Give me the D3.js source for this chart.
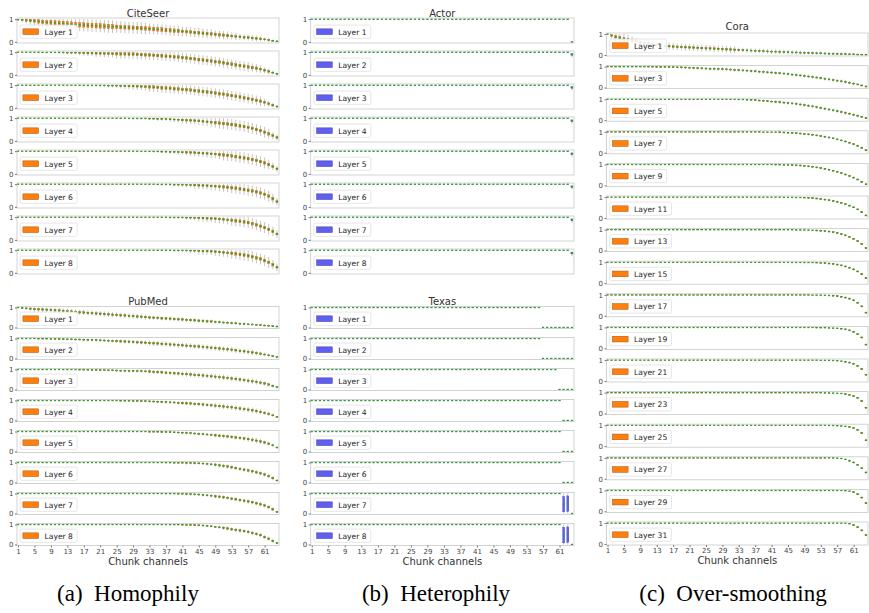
<!DOCTYPE html>
<html>
<head>
<meta charset="utf-8">
<script src="https://cdn.jsdelivr.net/npm/d3@7"></script>
<style>
  body { margin: 0; background: #fff; }
  svg { display: block; }
  text { font-family: "DejaVu Sans", sans-serif; }
  text.caption { font-family: "Liberation Serif", "Times New Roman", serif; white-space: pre; }
</style>
</head>
<body>
<svg id="chart" width="869" height="613"></svg>
<script>
// Channels and tick labels
const channels = d3.range(1, 65);
const xTickLabels = [1, 5, 9, 13, 17, 21, 25, 29, 33, 37, 41, 45, 49, 53, 57, 61];

// Layer names
const eightLayers = ["Layer 1", "Layer 2", "Layer 3", "Layer 4", "Layer 5", "Layer 6", "Layer 7", "Layer 8"];
const coraLayers = ["Layer 1", "Layer 3", "Layer 5", "Layer 7", "Layer 9", "Layer 11", "Layer 13", "Layer 15",
                    "Layer 17", "Layer 19", "Layer 21", "Layer 23", "Layer 25", "Layer 27", "Layer 29", "Layer 31"];

// Median per chunk channel, in percent
const citeseerMed = [
  [98,97,96,94,92,90,88,86, 85,83,82,81,79,78,76,75, 74,73,72,71,70,69,68,67, 66,65,64,63,62,61,60,59,
   58,56,55,54,52,51,49,48, 46,45,43,41,40,38,36,35, 33,31,29,28,26,24,22,20, 19,17,15,13,11,8,5,2],
  [100,100,100,100,100,100,99,99, 99,99,99,99,98,98,98,97, 97,96,96,95,95,94,94,93, 93,92,92,91,91,90,89,88,
   87,86,85,84,82,81,79,78, 76,74,72,70,67,65,63,61, 58,56,53,50,47,44,41,38, 35,32,29,25,20,15,10,5],
  [100,100,100,100,100,100,100,100, 100,100,100,100,100,100,100,100, 99,99,99,99,99,99,98,98, 98,97,97,96,96,95,94,93,
   92,91,90,88,87,86,84,83, 81,80,78,76,74,72,70,68, 65,62,60,57,54,51,48,44, 41,37,33,29,24,18,12,6],
  [100,100,100,100,100,100,100,100, 100,100,100,100,100,100,100,100, 100,100,100,100,100,100,100,100, 100,100,100,99,99,99,99,99,
   98,98,97,97,96,95,94,93, 92,91,90,89,88,86,84,82, 80,78,76,74,72,69,66,63, 59,55,50,45,38,31,23,15],
  [100,100,100,100,100,100,100,100, 100,100,100,100,100,100,100,100, 100,100,100,100,100,100,100,100, 100,100,100,100,100,100,99,99,
   99,99,99,98,98,97,97,96, 95,95,94,93,92,91,90,88, 87,85,83,81,79,76,73,70, 67,63,59,54,48,41,32,22],
  [100,100,100,100,100,100,100,100, 100,100,100,100,100,100,100,100, 100,100,100,100,100,100,100,100, 100,100,100,100,100,100,100,100,
   100,100,99,99,99,99,98,98, 98,97,96,96,95,94,93,92, 91,89,88,86,84,82,79,76, 73,70,66,61,55,47,36,23],
  [100,100,100,100,100,100,100,100, 100,100,100,100,100,100,100,100, 100,100,100,100,100,100,100,100, 100,100,100,100,100,100,100,100,
   100,100,100,100,100,99,99,99, 99,98,98,97,97,96,95,94, 93,92,90,88,86,84,82,79, 76,71,66,60,54,46,37,26],
  [100,100,100,100,100,100,100,100, 100,100,100,100,100,100,100,100, 100,100,100,100,100,100,100,100, 100,100,100,100,100,100,100,100,
   100,100,100,100,100,100,99,99, 99,99,98,98,97,96,96,95, 93,92,90,88,86,84,81,78, 75,71,66,61,54,46,36,25]
];
// Box half-height (x0.02) and whisker length beyond the box (x0.03), one digit per channel
const citeseerBox = [
  "12333444 55555555 55555555 44444444 44444444 33333333 33332222 22221111",
  "00000000 00111111 22222222 33333333 33333333 33333333 33333333 33322211",
  "00000000 00000000 01111111 11222222 33333333 33333333 33333333 33332221",
  "00000000 00000000 00000000 00001111 11111111 22222222 33333333 33333322",
  "00000000 00000000 00000000 00000000 01111111 12222222 23333333 33333322",
  "00000000 00000000 00000000 00000000 00011111 11122222 22333333 33333332",
  "00000000 00000000 00000000 00000000 00001111 11112222 22223333 33333332",
  "00000000 00000000 00000000 00000000 00001111 11112222 22223333 33333332"
];
const citeseerWhisk = [
  "12344455 66666666 66666666 66666666 55555555 55555555 44444433 33322211",
  "00000000 11122223 33344444 55555555 55555555 55555555 55555555 54443321",
  "00000000 00000000 11112222 33334444 55555555 55555555 55555555 55554321",
  "00000000 00000000 00000000 11111111 11222333 44445555 56666666 66666543",
  "00000000 00000000 00000000 00000111 11112223 33444455 55666666 66666543",
  "00000000 00000000 00000000 00000000 11111222 33344445 55556666 66666654",
  "00000000 00000000 00000000 00000000 00111122 22334444 55556666 66666654",
  "00000000 00000000 00000000 00000000 00111122 22334444 55556666 66666654"
];

const pubmedMed = [
  [100,98,96,94,92,91,90,89, 88,86,85,83,82,80,78,76, 75,73,72,70,69,67,66,64, 63,61,60,58,57,55,54,52,
   50,49,48,46,45,44,42,41, 40,38,37,36,34,33,31,30, 28,27,25,24,22,21,19,18, 16,15,13,12,10,9,7,5],
  [100,100,100,100,100,99,99,99, 98,98,97,97,96,96,95,95, 94,93,93,92,91,90,89,88, 87,86,85,84,83,81,80,79,
   78,76,75,73,72,70,69,67, 66,64,63,61,60,58,56,54, 52,50,48,46,44,41,38,36, 33,30,27,24,20,16,12,8],
  [100,100,100,100,100,100,100,100, 100,100,100,100,100,100,100,99, 99,99,98,98,97,97,96,96, 95,94,94,93,93,92,92,91,
   90,88,87,86,84,83,81,80, 78,77,75,73,72,70,68,66, 64,62,60,58,55,53,50,47, 44,41,38,34,30,25,18,12],
  [100,100,100,100,100,100,100,100, 100,100,100,100,100,100,100,100, 100,100,100,100,100,100,100,100, 100,99,99,99,98,98,97,97,
   96,95,94,93,92,91,90,88, 87,86,85,83,82,80,78,76, 74,72,70,68,66,63,60,57, 54,51,47,43,38,33,26,18],
  [100,100,100,100,100,100,100,100, 100,100,100,100,100,100,100,100, 100,100,100,100,100,100,100,100, 100,100,100,100,100,100,100,100,
   99,99,99,98,98,97,96,95, 94,93,92,90,88,87,85,83, 81,79,77,75,73,70,68,65, 62,58,54,50,45,39,31,20],
  [100,100,100,100,100,100,100,100, 100,100,100,100,100,100,100,100, 100,100,100,100,100,100,100,100, 100,100,100,100,100,100,100,100,
   100,100,100,100,100,100,99,99, 99,98,98,97,96,95,93,91, 89,86,83,80,76,72,68,64, 60,56,51,46,40,32,22,10],
  [100,100,100,100,100,100,100,100, 100,100,100,100,100,100,100,100, 100,100,100,100,100,100,100,100, 100,100,100,100,100,100,100,100,
   100,100,100,100,100,100,100,99, 99,98,97,96,95,93,91,89, 86,84,81,78,74,71,67,64, 60,56,51,46,40,32,21,8],
  [100,100,100,100,100,100,100,100, 100,100,100,100,100,100,100,100, 100,100,100,100,100,100,100,100, 100,100,100,100,100,100,100,100,
   100,100,100,100,100,100,100,100, 99,98,98,97,96,95,93,91, 88,86,83,80,76,73,70,67, 63,58,53,47,37,29,18,7]
];
const pubmedBox = [
  "01122222 22222222 22222222 22222222 22222222 22222222 11111111 11111111",
  "00000000 01111111 11111111 22222222 22222222 22222222 22222222 22221111",
  "00000000 00000000 01111111 11111111 22222222 22222222 22222222 22222211",
  "00000000 00000000 00000000 01111111 11111111 22222222 22222222 22222211",
  "00000000 00000000 00000000 00000000 11111111 11111111 22222222 22222211",
  "00000000 00000000 00000000 00000000 00001111 11111111 22222222 22222221",
  "00000000 00000000 00000000 00000000 00001111 11111111 22222222 22222221",
  "00000000 00000000 00000000 00000000 00000111 11111111 11222222 22222221"
];
const pubmedWhisk = [
  "01223333 33333333 33333333 33333333 22222222 22222222 22222222 11111111",
  "00000000 11111111 22222222 22222222 33333333 33333333 33333333 33222211",
  "00000000 00000000 11111111 22222222 22222222 33333333 33333333 33322221",
  "00000000 00000000 00000000 11111111 22222222 22222222 33333333 33332221",
  "00000000 00000000 00000000 00000000 11111111 22222222 22222222 33332221",
  "00000000 00000000 00000000 00000000 00001111 12222222 22222222 22222221",
  "00000000 00000000 00000000 00000000 00001111 12222222 22222222 22222221",
  "00000000 00000000 00000000 00000000 00000111 11111111 12222222 22222221"
];

const actorMed = [
  [100,100,100,100,100,100,100,100, 100,100,100,100,100,100,100,100, 100,100,100,100,100,100,100,100, 100,100,100,100,100,100,100,100,
   100,100,100,100,100,100,100,100, 100,100,100,100,100,100,100,100, 100,100,100,100,100,100,100,100, 100,100,100,100,100,100,100,0],
  [100,100,100,100,100,100,100,100, 100,100,100,100,100,100,100,100, 100,100,100,100,100,100,100,100, 100,100,100,100,100,100,100,100,
   100,100,100,100,100,100,100,100, 100,100,100,100,100,100,100,100, 100,100,100,100,100,100,100,100, 100,100,100,100,100,100,100,90],
  [100,100,100,100,100,100,100,100, 100,100,100,100,100,100,100,100, 100,100,100,100,100,100,100,100, 100,100,100,100,100,100,100,100,
   100,100,100,100,100,100,100,100, 100,100,100,100,100,100,100,100, 100,100,100,100,100,100,100,100, 100,100,100,100,100,100,100,90],
  [100,100,100,100,100,100,100,100, 100,100,100,100,100,100,100,100, 100,100,100,100,100,100,100,100, 100,100,100,100,100,100,100,100,
   100,100,100,100,100,100,100,100, 100,100,100,100,100,100,100,100, 100,100,100,100,100,100,100,100, 100,100,100,100,100,100,100,89],
  [100,100,100,100,100,100,100,100, 100,100,100,100,100,100,100,100, 100,100,100,100,100,100,100,100, 100,100,100,100,100,100,100,100,
   100,100,100,100,100,100,100,100, 100,100,100,100,100,100,100,100, 100,100,100,100,100,100,100,100, 100,100,100,100,100,100,100,88],
  [100,100,100,100,100,100,100,100, 100,100,100,100,100,100,100,100, 100,100,100,100,100,100,100,100, 100,100,100,100,100,100,100,100,
   100,100,100,100,100,100,100,100, 100,100,100,100,100,100,100,100, 100,100,100,100,100,100,100,100, 100,100,100,100,100,100,100,89],
  [100,100,100,100,100,100,100,100, 100,100,100,100,100,100,100,100, 100,100,100,100,100,100,100,100, 100,100,100,100,100,100,100,100,
   100,100,100,100,100,100,100,100, 100,100,100,100,100,100,100,100, 100,100,100,100,100,100,100,100, 100,100,100,100,100,100,100,88],
  [100,100,100,100,100,100,100,100, 100,100,100,100,100,100,100,100, 100,100,100,100,100,100,100,100, 100,100,100,100,100,100,100,100,
   100,100,100,100,100,100,100,100, 100,100,100,100,100,100,100,100, 100,100,100,100,100,100,100,100, 100,100,100,100,100,100,100,87]
];
// Full boxes that stand out: [layer index, channel, low whisker, q1, median, q3, high whisker] in percent
const actorExtra = [
  [1, 64, 77, 86, 90, 93, 96], [2, 64, 77, 86, 90, 93, 96], [3, 64, 76, 85, 89, 92, 96], [4, 64, 75, 84, 88, 92, 96],
  [5, 64, 76, 85, 89, 92, 96], [6, 64, 75, 84, 88, 92, 96], [7, 64, 74, 83, 87, 91, 95]
];

const texasMed = [
  [100,100,100,100,100,100,100,100, 100,100,100,100,100,100,100,100, 100,100,100,100,100,100,100,100, 100,100,100,100,100,100,100,100,
   100,100,100,100,100,100,100,100, 100,100,100,100,100,100,100,100, 100,100,100,100,100,100,100,100, 0,0,0,0,0,0,0,0],
  [100,100,100,100,100,100,100,100, 100,100,100,100,100,100,100,100, 100,100,100,100,100,100,100,100, 100,100,100,100,100,100,100,100,
   100,100,100,100,100,100,100,100, 100,100,100,100,100,100,100,100, 100,100,100,100,100,100,100,100, 0,0,0,0,0,0,0,0],
  [100,100,100,100,100,100,100,100, 100,100,100,100,100,100,100,100, 100,100,100,100,100,100,100,100, 100,100,100,100,100,100,100,100,
   100,100,100,100,100,100,100,100, 100,100,100,100,100,100,100,100, 100,100,100,100,100,100,100,100, 100,100,100,100,0,0,0,0],
  [100,100,100,100,100,100,100,100, 100,100,100,100,100,100,100,100, 100,100,100,100,100,100,100,100, 100,100,100,100,100,100,100,100,
   100,100,100,100,100,100,100,100, 100,100,100,100,100,100,100,100, 100,100,100,100,100,100,100,100, 100,100,100,100,100,0,0,0],
  [100,100,100,100,100,100,100,100, 100,100,100,100,100,100,100,100, 100,100,100,100,100,100,100,100, 100,100,100,100,100,100,100,100,
   100,100,100,100,100,100,100,100, 100,100,100,100,100,100,100,100, 100,100,100,100,100,100,100,100, 100,100,100,100,100,0,0,0],
  [100,100,100,100,100,100,100,100, 100,100,100,100,100,100,100,100, 100,100,100,100,100,100,100,100, 100,100,100,100,100,100,100,100,
   100,100,100,100,100,100,100,100, 100,100,100,100,100,100,100,100, 100,100,100,100,100,100,100,100, 100,100,100,100,100,0,0,0],
  [100,100,100,100,100,100,100,100, 100,100,100,100,100,100,100,100, 100,100,100,100,100,100,100,100, 100,100,100,100,100,100,100,100,
   100,100,100,100,100,100,100,100, 100,100,100,100,100,100,100,100, 100,100,100,100,100,100,100,100, 100,100,100,100,100,45,50,0],
  [100,100,100,100,100,100,100,100, 100,100,100,100,100,100,100,100, 100,100,100,100,100,100,100,100, 100,100,100,100,100,100,100,100,
   100,100,100,100,100,100,100,100, 100,100,100,100,100,100,100,100, 100,100,100,100,100,100,100,100, 100,100,100,100,100,45,52,0]
];
const texasExtra = [
  [6, 62, 0, 8, 45, 85, 100], [6, 63, 0, 10, 50, 88, 100],
  [7, 62, 0, 8, 45, 86, 100], [7, 63, 0, 10, 52, 88, 100]
];

const coraMed = [
  [100,93,87,82,77,73,69,65, 61,58,55,52,49,46,43,42, 40,39,38,37,36,35,34,33, 32,31,30,29,28,27,26,25,
   24,23,22,21,20,19,18,17, 16,16,15,14,13,12,12,11, 10,10,9,8,8,7,6,6, 5,4,4,3,3,2,1,1],
  [100,100,100,100,100,100,100,100, 100,100,100,100,99,99,99,98, 98,97,97,96,95,94,93,92, 91,90,90,89,88,87,86,84,
   83,82,81,79,78,76,75,73, 72,70,69,67,65,62,60,58, 56,53,51,48,45,42,39,36, 33,30,27,23,19,15,10,5],
  [100,100,100,100,100,100,100,100, 100,100,100,100,100,100,100,100, 100,100,100,100,100,100,100,100, 100,100,100,100,100,100,100,100,
   99,99,98,97,96,94,93,91, 89,88,86,84,82,80,78,75, 72,69,66,62,59,55,51,47, 43,39,35,31,26,21,16,10],
  [100,100,100,100,100,100,100,100, 100,100,100,100,100,100,100,100, 100,100,100,100,100,100,100,100, 100,100,100,100,100,100,100,100,
   100,100,100,100,100,100,99,99, 99,99,98,97,96,95,94,92, 90,88,86,83,80,77,73,69, 64,59,54,48,41,33,24,12],
  [100,100,100,100,100,100,100,100, 100,100,100,100,100,100,100,100, 100,100,100,100,100,100,100,100, 100,100,100,100,100,100,100,100,
   100,100,100,100,100,100,100,100, 100,99,99,98,98,97,96,95, 93,91,89,86,83,79,75,70, 65,59,52,45,37,28,17,5],
  [100,100,100,100,100,100,100,100, 100,100,100,100,100,100,100,100, 100,100,100,100,100,100,100,100, 100,100,100,100,100,100,100,100,
   100,100,100,100,100,100,100,100, 100,100,100,99,99,99,98,98, 97,96,95,93,91,88,85,81, 77,72,66,59,51,41,28,12],
  [100,100,100,100,100,100,100,100, 100,100,100,100,100,100,100,100, 100,100,100,100,100,100,100,100, 100,100,100,100,100,100,100,100,
   100,100,100,100,100,100,100,100, 100,100,100,100,100,100,99,99, 99,98,97,96,95,93,91,88, 84,79,73,65,56,45,31,12],
  [100,100,100,100,100,100,100,100, 100,100,100,100,100,100,100,100, 100,100,100,100,100,100,100,100, 100,100,100,100,100,100,100,100,
   100,100,100,100,100,100,100,100, 100,100,100,100,100,99,99,99, 99,99,99,98,97,96,94,92, 89,85,80,74,66,56,43,25],
  [100,100,100,100,100,100,100,100, 100,100,100,100,100,100,100,100, 100,100,100,100,100,100,100,100, 100,100,100,100,100,100,100,100,
   100,100,100,100,100,100,100,100, 100,100,100,100,100,100,100,100, 100,100,99,99,99,98,97,96, 94,91,87,82,74,62,45,15],
  [100,100,100,100,100,100,100,100, 100,100,100,100,100,100,100,100, 100,100,100,100,100,100,100,100, 100,100,100,100,100,100,100,100,
   100,100,100,100,100,100,100,100, 100,100,100,100,100,100,100,100, 100,100,100,99,99,99,98,97, 96,94,91,86,79,68,52,18],
  [100,100,100,100,100,100,100,100, 100,100,100,100,100,100,100,100, 100,100,100,100,100,100,100,100, 100,100,100,100,100,100,100,100,
   100,100,100,100,100,100,100,100, 100,100,100,100,100,100,100,100, 100,100,100,100,99,99,99,98, 97,95,92,88,82,72,57,30],
  [100,100,100,100,100,100,100,100, 100,100,100,100,100,100,100,100, 100,100,100,100,100,100,100,100, 100,100,100,100,100,100,100,100,
   100,100,100,100,100,100,100,100, 100,100,100,100,100,100,100,100, 100,100,100,100,100,99,99,98, 97,96,93,89,84,75,60,28],
  [100,100,100,100,100,100,100,100, 100,100,100,100,100,100,100,100, 100,100,100,100,100,100,100,100, 100,100,100,100,100,100,100,100,
   100,100,100,100,100,100,100,100, 100,100,100,100,100,100,100,100, 100,100,100,100,100,100,99,99, 98,97,95,92,87,78,63,28],
  [100,100,100,100,100,100,100,100, 100,100,100,100,100,100,100,100, 100,100,100,100,100,100,100,100, 100,100,100,100,100,100,100,100,
   100,100,100,100,100,100,100,100, 100,100,100,100,100,100,100,100, 100,100,100,100,100,100,100,100, 99,97,93,86,78,67,50,30],
  [100,100,100,100,100,100,100,100, 100,100,100,100,100,100,100,100, 100,100,100,100,100,100,100,100, 100,100,100,100,100,100,100,100,
   100,100,100,100,100,100,100,100, 100,100,100,100,100,100,100,100, 100,100,100,100,100,100,100,100, 100,100,99,97,92,82,66,39],
  [100,100,100,100,100,100,100,100, 100,100,100,100,100,100,100,100, 100,100,100,100,100,100,100,100, 100,100,100,100,100,100,100,100,
   100,100,100,100,100,100,100,100, 100,100,100,100,100,100,100,100, 100,100,100,100,100,100,100,100, 100,100,100,97,90,80,65,42]
];
const coraBox = [
  "02333322 22222222 22222222 22222222 11111111 11111111 11111111 11111111",
  "00000000 00011111 11111111 11111111 11111111 11111111 11111111 11111111",
  "00000000 00000000 00000000 00000000 00111111 11111111 11111111 11111111",
  "00000000 00000000 00000000 00000000 00000000 00111111 11111111 11111111",
  "00000000 00000000 00000000 00000000 00000000 00000111 11111111 11111111",
  "00000000 00000000 00000000 00000000 00000000 00000000 01111111 11111111",
  "00000000 00000000 00000000 00000000 00000000 00000000 00011111 11111111",
  "00000000 00000000 00000000 00000000 00000000 00000000 00000111 11111111",
  "00000000 00000000 00000000 00000000 00000000 00000000 00000001 11111111",
  "00000000 00000000 00000000 00000000 00000000 00000000 00000000 01111111",
  "00000000 00000000 00000000 00000000 00000000 00000000 00000000 00111111",
  "00000000 00000000 00000000 00000000 00000000 00000000 00000000 00111111",
  "00000000 00000000 00000000 00000000 00000000 00000000 00000000 00011111",
  "00000000 00000000 00000000 00000000 00000000 00000000 00000000 00011111",
  "00000000 00000000 00000000 00000000 00000000 00000000 00000000 00001111",
  "00000000 00000000 00000000 00000000 00000000 00000000 00000000 00001111"
];
const coraWhisk = [
  "03566654 44444444 44444444 44444444 33333333 33333333 22222222 22221111",
  "00000000 00111111 11222222 22222222 22222222 22222222 22222222 22222111",
  "00000000 00000000 00000000 00000000 01111111 12222222 22222222 22222211",
  "00000000 00000000 00000000 00000000 00000000 00111111 11111111 11111111",
  "00000000 00000000 00000000 00000000 00000000 00000111 11111111 11111111",
  "00000000 00000000 00000000 00000000 00000000 00000000 01111111 11111111",
  "00000000 00000000 00000000 00000000 00000000 00000000 00011111 11111111",
  "00000000 00000000 00000000 00000000 00000000 00000000 00000111 11111111",
  "00000000 00000000 00000000 00000000 00000000 00000000 00000001 11111111",
  "00000000 00000000 00000000 00000000 00000000 00000000 00000000 01111111",
  "00000000 00000000 00000000 00000000 00000000 00000000 00000000 00111111",
  "00000000 00000000 00000000 00000000 00000000 00000000 00000000 00111111",
  "00000000 00000000 00000000 00000000 00000000 00000000 00000000 00011111",
  "00000000 00000000 00000000 00000000 00000000 00000000 00000000 00011111",
  "00000000 00000000 00000000 00000000 00000000 00000000 00000000 00001111",
  "00000000 00000000 00000000 00000000 00000000 00000000 00000000 00001111"
];

const captions = ["(a)  Homophily", "(b)  Heterophily", "(c)  Over-smoothing"];

// Colours
const orange = "#ff7f0e";
const blue = "#5e5ef2";
const green = "#2ca02c";

// Column extents (frame left/right) and caption centres
const columns = [
  { x0: 17, x1: 279, caption: 128 },
  { x0: 310.7, x1: 574, caption: 436 },
  { x0: 606.5, x1: 868, caption: 733 }
];

const groups = [
  { title: "CiteSeer", col: 0, top: 18, step: 33, h: 25, titleY: 16.5, names: eightLayers,
    med: citeseerMed, box: citeseerBox, whisk: citeseerWhisk, fill: orange, extra: [], xAxis: false },
  { title: "PubMed", col: 0, top: 306.5, step: 31, h: 22, titleY: 305, names: eightLayers,
    med: pubmedMed, box: pubmedBox, whisk: pubmedWhisk, fill: orange, extra: [], xAxis: true },
  { title: "Actor", col: 1, top: 18, step: 33, h: 25, titleY: 16.5, names: eightLayers,
    med: actorMed, box: null, whisk: null, fill: blue, extra: actorExtra, xAxis: false },
  { title: "Texas", col: 1, top: 306.5, step: 31, h: 22, titleY: 305, names: eightLayers,
    med: texasMed, box: null, whisk: null, fill: blue, extra: texasExtra, xAxis: true },
  { title: "Cora", col: 2, top: 33, step: 32.6, h: 23, titleY: 30, names: coraLayers,
    med: coraMed, box: coraBox, whisk: coraWhisk, fill: orange, extra: [], xAxis: true }
];

const svg = d3.select("#chart");
const digits = s => s.replace(/\s/g, "").split("").map(Number);
const clamp = v => Math.max(0, Math.min(1, v));
const boxWidth = 0.5;   // in channel units

function buildBoxes(grp, i) {
  const box = grp.box ? digits(grp.box[i]) : null;
  const whisk = grp.whisk ? digits(grp.whisk[i]) : null;
  const stats = channels.map((c, j) => {
    const m = grp.med[i][j] / 100;
    const b = box ? box[j] * 0.02 : 0;
    const w = whisk ? whisk[j] * 0.03 : 0;
    return { c, med: m, q1: clamp(m - b), q3: clamp(m + b), lo: clamp(m - b - w), hi: clamp(m + b + w) };
  });
  grp.extra.filter(e => e[0] === i).forEach(([, c, lo, q1, med, q3, hi]) => {
    stats[c - 1] = { c, lo: lo / 100, q1: q1 / 100, med: med / 100, q3: q3 / 100, hi: hi / 100 };
  });
  return stats;
}

function drawPanel(grp, i) {
  const col = columns[grp.col];
  const top = grp.top + i * grp.step;
  const x = d3.scaleLinear().domain([0.75, 64.5]).range([col.x0, col.x1]);
  const y = d3.scaleLinear().domain([-0.05, 1.05]).range([top + grp.h, top]);
  const g = svg.append("g");
  const stats = buildBoxes(grp, i);
  const bw = x(boxWidth) - x(0);
  const edge = d3.color(grp.fill).darker(1.2).formatHex();

  // whiskers
  g.selectAll("line.whisker")
    .data(stats.filter(d => d.hi - d.lo > 0.001))
    .join("line")
    .attr("class", "whisker")
    .attr("x1", d => x(d.c)).attr("x2", d => x(d.c))
    .attr("y1", d => y(d.lo)).attr("y2", d => y(d.hi))
    .attr("stroke", "#bdbdbd").attr("stroke-width", 0.9);

  // boxes
  g.selectAll("rect.box")
    .data(stats)
    .join("rect")
    .attr("class", "box")
    .attr("x", d => x(d.c) - bw / 2)
    .attr("width", bw)
    .attr("y", d => y(d.q3))
    .attr("height", d => Math.max(0.3, y(d.q1) - y(d.q3)))
    .attr("fill", grp.fill)
    .attr("stroke", edge)
    .attr("stroke-width", 0.3);

  // medians
  g.selectAll("line.median")
    .data(stats)
    .join("line")
    .attr("class", "median")
    .attr("x1", d => x(d.c) - bw / 2).attr("x2", d => x(d.c) + bw / 2)
    .attr("y1", d => y(d.med)).attr("y2", d => y(d.med))
    .attr("stroke", green).attr("stroke-width", 1.4);

  // frame
  g.append("rect")
    .attr("x", col.x0).attr("y", top)
    .attr("width", col.x1 - col.x0).attr("height", grp.h)
    .attr("fill", "none").attr("stroke", "#c8c8c8").attr("stroke-width", 0.8);

  // y axis
  const yAxis = g.append("g")
    .attr("transform", `translate(${col.x0},0)`)
    .call(d3.axisLeft(y).tickValues([0, 1]).tickSize(2).tickPadding(1.5).tickFormat(d3.format("d")));
  yAxis.select(".domain").remove();
  yAxis.selectAll(".tick line").attr("stroke", "#777");
  yAxis.selectAll(".tick text").attr("font-size", 7).attr("fill", "#444");

  // x axis on the last panel of a group
  if (grp.xAxis && i === grp.names.length - 1) {
    const xAxis = g.append("g")
      .attr("transform", `translate(0,${top + grp.h})`)
      .call(d3.axisBottom(x).tickValues(xTickLabels).tickSize(2).tickPadding(1.5));
    xAxis.select(".domain").remove();
    xAxis.selectAll(".tick line").attr("stroke", "#777");
    xAxis.selectAll(".tick text").attr("font-size", 7).attr("fill", "#444");
    svg.append("text")
      .attr("x", (col.x0 + col.x1) / 2).attr("y", top + grp.h + 19)
      .attr("text-anchor", "middle").attr("font-size", 10).attr("fill", "#333")
      .text("Chunk channels");
  }

  // legend
  const lh = 13.3;
  const lx = col.x0 + 3.2;
  const ly = top + grp.h / 2 - lh / 2 + 1.2;
  const lg = g.append("g");
  const lbox = lg.append("rect")
    .attr("x", lx).attr("y", ly).attr("height", lh).attr("rx", 1.5)
    .attr("fill", "#fff").attr("fill-opacity", 0.85)
    .attr("stroke", "#dddddd").attr("stroke-width", 0.7);
  lg.append("rect")
    .attr("x", lx + 2.7).attr("y", ly + (lh - 5.7) / 2)
    .attr("width", 15.7).attr("height", 5.7)
    .attr("fill", grp.fill)
    .attr("stroke", edge).attr("stroke-width", 0.5);
  const lt = lg.append("text")
    .attr("x", lx + 24.3).attr("y", ly + lh / 2 + 2.8)
    .attr("font-size", 7.6).attr("fill", "#222")
    .text(grp.names[i]);
  lbox.attr("width", 24.3 + lt.node().getComputedTextLength() + 4.2);
}

groups.forEach(grp => {
  const col = columns[grp.col];
  svg.append("text")
    .attr("x", (col.x0 + col.x1) / 2).attr("y", grp.titleY)
    .attr("text-anchor", "middle").attr("font-size", 10).attr("fill", "#333")
    .text(grp.title);
  grp.names.forEach((name, i) => drawPanel(grp, i));
});

// sub-figure captions
svg.selectAll("text.caption")
  .data(captions)
  .join("text")
  .attr("class", "caption")
  .attr("x", (d, i) => columns[i].caption)
  .attr("y", 601)
  .attr("text-anchor", "middle")
  .attr("font-size", 23)
  .attr("fill", "#000")
  .text(d => d);
</script>
</body>
</html>
